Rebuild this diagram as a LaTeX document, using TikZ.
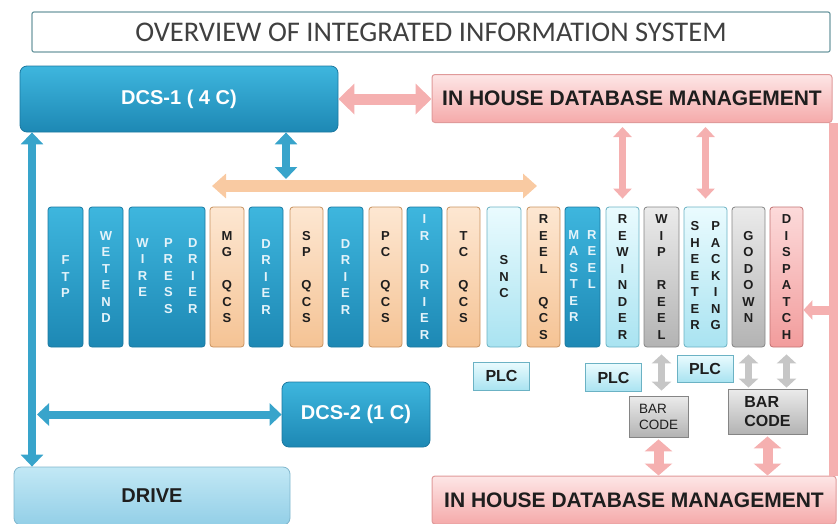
\documentclass[tikz,border=0pt]{standalone}
\usepackage{fontspec}
\setmainfont{Liberation Sans}
\newfontfamily\titlefont{Carlito}
\usetikzlibrary{arrows.meta}

\definecolor{blueT}{HTML}{3EB6DE}
\definecolor{blueB}{HTML}{1D88B4}
\definecolor{blueD}{HTML}{1B78A0}
\definecolor{blueTxt}{HTML}{E4F3FA}
\definecolor{qcsT}{HTML}{FDE7D2}
\definecolor{qcsB}{HTML}{F5C394}
\definecolor{qcsD}{HTML}{C8925F}
\definecolor{cyanT}{HTML}{EAFBFE}
\definecolor{cyanB}{HTML}{A9E3F1}
\definecolor{cyanD}{HTML}{6BB2C4}
\definecolor{greyT}{HTML}{EBEBEB}
\definecolor{greyB}{HTML}{B3B3B3}
\definecolor{greyD}{HTML}{858585}
\definecolor{pinkT}{HTML}{FCDADA}
\definecolor{pinkB}{HTML}{F29C9C}
\definecolor{pinkD}{HTML}{C27272}
\definecolor{dbT}{HTML}{FDE6E6}
\definecolor{dbB}{HTML}{F5AAAA}
\definecolor{dbD}{HTML}{E09A9A}
\definecolor{driveT}{HTML}{C2E8F5}
\definecolor{driveB}{HTML}{93CFE7}
\definecolor{driveD}{HTML}{7FB6CD}
\definecolor{titleEdge}{HTML}{6E9AA2}
\definecolor{titleText}{HTML}{404040}
\definecolor{arrBlue}{HTML}{38A4CB}
\definecolor{arrPink}{HTML}{F5B0B0}
\definecolor{arrOrange}{HTML}{F9CAA2}
\definecolor{arrGrey}{HTML}{C6C6C6}
\definecolor{darkTxt}{HTML}{1E1E1E}

\def\colY{277}
\def\colH{140pt}

\tikzset{
  col/.style={rectangle, rounded corners=3pt, minimum height=\colH, inner sep=0pt,
    align=center, line width=0.8pt, font=\fontsize{13}{16.5}\selectfont\bfseries},
  bluecol/.style={col, top color=blueT, bottom color=blueB, draw=blueD, text=blueTxt},
  qcscol/.style={col, top color=qcsT, bottom color=qcsB, draw=qcsD, text=darkTxt},
  cyancol/.style={col, top color=cyanT, bottom color=cyanB, draw=cyanD, text=darkTxt},
  greycol/.style={col, top color=greyT, bottom color=greyB, draw=greyD, text=darkTxt},
  pinkcol/.style={col, top color=pinkT, bottom color=pinkB, draw=pinkD, text=darkTxt},
  dcsbox/.style={rectangle, rounded corners=7pt, top color=blueT, bottom color=blueB,
    draw=blueD, line width=0.8pt, text=white, font=\fontsize{20}{24}\selectfont\bfseries},
  dbbox/.style={rectangle, rounded corners=3pt, top color=dbT, bottom color=dbB, draw=dbD,
    line width=1pt, minimum width=400pt, minimum height=48pt, text=darkTxt,
    font=\fontsize{21}{24}\selectfont\bfseries},
  plcbox/.style={rectangle, top color=cyanT, bottom color=cyanB, draw=cyanD, line width=1pt,
    minimum width=56pt, minimum height=28pt, inner sep=0pt, text=darkTxt,
    font=\fontsize{16}{18}\selectfont\bfseries},
  barbox/.style={rectangle, top color=greyT, bottom color=greyB, draw=greyD, line width=0.8pt,
    align=left, inner sep=0pt, text=darkTxt},
  blueway/.style={draw=arrBlue, line width=8pt,
    {Triangle[length=12pt,width=22pt]}-{Triangle[length=12pt,width=22pt]}},
  pinkway/.style={draw=arrPink, line width=11pt,
    {Triangle[length=16pt,width=30pt]}-{Triangle[length=16pt,width=30pt]}},
  pinkthin/.style={draw=arrPink, line width=7pt,
    {Triangle[length=10pt,width=18pt]}-{Triangle[length=10pt,width=18pt]}},
  pinkfat/.style={draw=arrPink, line width=10pt,
    {Triangle[length=12pt,width=27pt]}-{Triangle[length=12pt,width=27pt]}},
  orangeway/.style={draw=arrOrange, line width=12pt,
    {Triangle[length=14pt,width=24pt]}-{Triangle[length=14pt,width=24pt]}},
  greyway/.style={draw=arrGrey, line width=7pt,
    {Triangle[length=9pt,width=19pt]}-{Triangle[length=9pt,width=19pt]}},
}

\begin{document}
\begin{tikzpicture}[x=1pt, y=-1pt]
  \useasboundingbox (0,0) rectangle (840,523);

  %% title
  \node[rectangle, rounded corners=2pt, draw=titleEdge, line width=1.2pt, minimum width=798pt,
    minimum height=40pt, text=titleText, font=\titlefont\fontsize{28.5}{30}\selectfont]
    (TITLE) at (431,32) {OVERVIEW OF INTEGRATED INFORMATION SYSTEM};

  %% control systems and databases
  \node[dcsbox, minimum width=318pt, minimum height=66pt] (DCS1) at (179,99) {DCS-1 ( 4 C)};
  \node[dcsbox, minimum width=148pt, minimum height=65pt] (DCS2) at (356,414.5) {DCS-2 (1 C)};
  \node[rectangle, rounded corners=7pt, top color=driveT, bottom color=driveB, draw=driveD,
    line width=0.8pt, minimum width=276pt, minimum height=58pt, text=darkTxt,
    font=\fontsize{20}{24}\selectfont\bfseries] (DRIVE) at (152,496) {DRIVE};
  \node[dbbox] (DB1) at (632,98.5) {IN HOUSE DATABASE MANAGEMENT};
  \node[dbbox, minimum width=404pt] (DB2) at (634,500) {IN HOUSE DATABASE MANAGEMENT};

  %% process columns
  \node[bluecol, minimum width=35pt] (FTP) at (65.5,\colY) {F\\T\\P};
  \node[bluecol, minimum width=34pt] (WET) at (106,\colY) {W\\E\\T\\E\\N\\D};
  \node[bluecol, minimum width=76pt] (WPD) at (167,\colY)
    {\begin{tabular}{@{}c@{\hspace{15pt}}c@{\hspace{15pt}}c@{}}W&P&D\\I&R&R\\R&E&I\\E&S&E\\&S&R\end{tabular}};
  \node[qcscol, minimum width=34pt] (MGQ) at (227,\colY) {M\\G\\\mbox{}\\Q\\C\\S};
  \node[bluecol, minimum width=34pt] (DR1) at (266,\colY) {D\\R\\I\\E\\R};
  \node[qcscol, minimum width=33pt] (SPQ) at (306.5,\colY) {S\\P\\\mbox{}\\Q\\C\\S};
  \node[bluecol, minimum width=35pt] (DR2) at (345.5,\colY) {D\\R\\I\\E\\R};
  \node[qcscol, minimum width=33pt] (PCQ) at (385.5,\colY) {P\\C\\\mbox{}\\Q\\C\\S};
  \node[bluecol, minimum width=35pt] (IRD) at (424.5,\colY) {I\\R\\\mbox{}\\D\\R\\I\\E\\R};
  \node[qcscol, minimum width=33pt] (TCQ) at (463.5,\colY) {T\\C\\\mbox{}\\Q\\C\\S};
  \node[cyancol, minimum width=34pt] (SNC) at (504,\colY) {S\\N\\C};
  \node[qcscol, minimum width=33pt] (RLQ) at (543.5,\colY) {R\\E\\E\\L\\\mbox{}\\Q\\C\\S};
  \node[bluecol, minimum width=35pt] (MRL) at (582.5,\colY)
    {\begin{tabular}{@{}c@{\hspace{8pt}}c@{}}M&R\\A&E\\S&E\\T&L\\E&\\R&\end{tabular}};
  \node[cyancol, minimum width=33pt] (REW) at (622.5,\colY) {R\\E\\W\\I\\N\\D\\E\\R};
  \node[greycol, minimum width=35pt] (WIP) at (661.5,\colY) {W\\I\\P\\\mbox{}\\R\\E\\E\\L};
  \node[cyancol, minimum width=43pt] (SHP) at (705.5,\colY)
    {\begin{tabular}{@{}c@{\hspace{11pt}}c@{}}S&P\\H&A\\E&C\\E&K\\T&I\\E&N\\R&G\end{tabular}};
  \node[greycol, minimum width=33pt] (GOD) at (748.5,\colY) {G\\O\\D\\O\\W\\N};
  \node[pinkcol, minimum width=33pt] (DIS) at (786.5,\colY) {D\\I\\S\\P\\A\\T\\C\\H};

  %% PLC and bar code units
  \node[plcbox] (PLC1) at (501.5,376) {PLC};
  \node[plcbox] (PLC2) at (613.5,377.5) {PLC};
  \node[plcbox, minimum height=27pt] (PLC3) at (705,368.5) {PLC};
  \node[barbox, minimum width=59pt, minimum height=41pt, font=\fontsize{13.5}{16}\selectfont]
    (BC1) at (658.5,416.5) {BAR\\CODE};
  \node[barbox, minimum width=79pt, minimum height=45pt, font=\fontsize{16}{19}\selectfont\bfseries]
    (BC2) at (767.5,411.5) {BAR\\CODE};

  %% free ends of the buses
  \coordinate (busL)   at (32,0);
  \coordinate (busR)   at (833,0);
  \coordinate (qcsL)   at (212,186);
  \coordinate (qcsR)   at (537,186);
  \coordinate (qcsTap) at (286,179);
  \coordinate (disIn)  at ([yshift=-33pt]DIS.east);

  %% connectors
  \draw[pinkway] (DCS1.east) -- (DB1.west |- DCS1.east);
  \draw[blueway] (DCS1.south -| busL) -- (DRIVE.north -| busL);
  \draw[blueway, shorten <=5pt] (busL |- DCS2.west) -- (DCS2.west);
  \draw[orangeway] (qcsL) -- (qcsR);
  \draw[blueway] (DCS1.south -| qcsTap) -- (qcsTap);
  \draw[pinkthin, shorten <=4pt, shorten >=8pt] (DB1.south -| REW.north) -- (REW.north);
  \draw[pinkthin, shorten <=4pt, shorten >=8pt] (DB1.south -| SHP.north) -- (SHP.north);
  \draw[greyway, shorten <=7pt, shorten >=5pt] (WIP.south) -- (BC1.north -| WIP.south);
  \draw[greyway, shorten <=7pt, shorten >=1pt] (GOD.south) -- (BC2.north -| GOD.south);
  \draw[greyway, shorten <=7pt, shorten >=1pt] (DIS.south) -- (BC2.north -| DIS.south);
  \draw[pinkfat, shorten <=2pt] (BC1.south) -- (DB2.north -| BC1.south);
  \draw[pinkfat, shorten <=2pt] (BC2.south) -- (DB2.north -| BC2.south);
  \draw[draw=arrPink, line width=9pt] (DB1.south -| busR) -- (DB2.north -| busR);
  \draw[draw=arrPink, line width=9pt, -{Triangle[length=9pt,width=19pt]}]
    (busR |- disIn) -- (disIn);
\end{tikzpicture}
\end{document}
